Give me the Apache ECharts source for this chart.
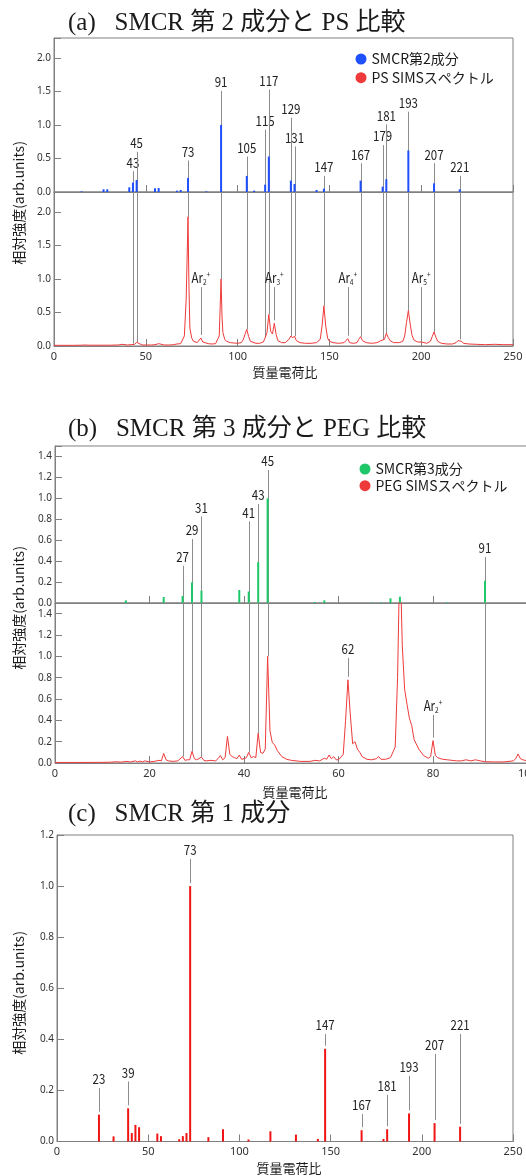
<!DOCTYPE html>
<html><head><meta charset="utf-8">
<script src="https://cdn.jsdelivr.net/npm/echarts@6.0.0/dist/echarts.min.js"></script>
<style>html,body{margin:0;padding:0;background:#fff}#c{width:526px;height:1176px}</style>
</head><body><div id="c"></div>
<script>
// ---------- DATA ----------
// (a) SMCR component 2 (bars) and PS SIMS spectrum
const smcr2MZ  = [15,27,29,41,43,45,55,57,67,69,73,83,91,105,109,115,117,129,131,143,147,167,179,181,193,207,221];
const smcr2Val = [0.01,0.04,0.04,0.07,0.14,0.18,0.055,0.06,0.02,0.03,0.21,0.01,1.0,0.24,0.02,0.11,0.53,0.17,0.12,0.03,0.05,0.17,0.08,0.19,0.62,0.13,0.04];
const labelA_MZ  = [43,45,73,91,105,115,117,129,131,147,167,179,181,193,207,221];
const labelA_Top = [0.31,0.60,0.47,1.51,0.53,0.93,1.53,1.11,0.68,0.24,0.43,0.70,1.01,1.20,0.43,0.24];
const arA_MZ = [80,120,160,200];
const arA_Text = ['2','3','4','5'];
const arA_Top = [0.88,0.88,0.88,0.88];
const psSpectrum = [[0,0.01],[5,0.01],[10,0.01],[15,0.012],[17,0.015],[18,0.025],[19,0.012],[25,0.012],[30,0.012],[35,0.015],[37,0.025],[38,0.02],[40,0.015],[42,0.02],[43,0.035],[44,0.025],[45,0.055],[46,0.03],[48,0.015],[50,0.015],[53,0.015],[55,0.02],[56,0.025],[57,0.035],[58,0.02],[60,0.015],[63,0.015],[65,0.02],[67,0.03],[69,0.035],[70,0.05],[71,0.15],[72,0.7],[73,1.93],[73.5,0.9],[74,0.27],[75,0.12],[76,0.07],[77,0.06],[78,0.05],[79,0.06],[80,0.12],[81,0.06],[82,0.04],[84,0.035],[86,0.03],[88,0.035],[89,0.05],[90,0.15],[91,1.0],[91.5,0.45],[92,0.2],[93,0.1],[94,0.07],[96,0.05],[98,0.045],[100,0.04],[102,0.05],[103,0.09],[104,0.17],[105,0.25],[106,0.14],[107,0.07],[108,0.05],[110,0.04],[112,0.04],[114,0.06],[115,0.12],[116,0.2],[117,0.47],[118,0.22],[119,0.18],[120,0.34],[121,0.17],[122,0.08],[124,0.05],[126,0.05],[128,0.1],[129,0.15],[130,0.12],[131,0.15],[132,0.08],[134,0.05],[137,0.04],[140,0.04],[143,0.05],[145,0.1],[146,0.3],[147,0.6],[148,0.3],[149,0.12],[150,0.07],[152,0.05],[155,0.04],[158,0.05],[159,0.06],[160,0.11],[161,0.05],[163,0.04],[165,0.05],[166,0.1],[167,0.14],[168,0.08],[170,0.05],[173,0.04],[176,0.05],[178,0.08],[179,0.09],[180,0.1],[181,0.19],[182,0.13],[183,0.08],[185,0.05],[188,0.05],[190,0.07],[191,0.15],[192,0.35],[193,0.53],[194,0.33],[195,0.16],[196,0.09],[198,0.06],[200,0.06],[201,0.04],[203,0.04],[205,0.07],[206,0.14],[207,0.21],[208,0.13],[209,0.07],[211,0.04],[214,0.03],[217,0.03],[219,0.05],[220,0.08],[221,0.1],[222,0.07],[223,0.04],[226,0.03],[230,0.025],[235,0.02],[240,0.025],[245,0.02],[250,0.02]];

// (b) SMCR component 3 (bars) and PEG SIMS spectrum
const smcr3MZ  = [15,23,27,29,31,39,41,43,45,55,57,67,69,71,73,83,91];
const smcr3Val = [0.025,0.057,0.067,0.197,0.118,0.124,0.11,0.39,1.0,0.01,0.025,0.004,0.006,0.045,0.06,0.005,0.213];
const labelB_MZ  = [27,29,31,41,43,45,91];
const labelB_Top = [0.356,0.61,0.827,0.78,0.945,1.27,0.44];
const labelB2_MZ = [62];
const labelB2_Top = [0.984];
const arB_MZ = [80];
const arB_Text = ['2'];
const arB_Top = [0.45];
const pegSpectrum = [[0,0.005],[5,0.005],[10,0.006],[12,0.008],[13,0.012],[14,0.008],[15,0.015],[16,0.01],[17,0.02],[17.5,0.01],[18,0.018],[18.5,0.01],[19,0.02],[20,0.01],[21,0.015],[22,0.025],[22.5,0.02],[23,0.09],[23.5,0.03],[24,0.02],[25,0.015],[26,0.02],[27,0.06],[27.5,0.025],[28,0.03],[28.5,0.03],[29,0.11],[29.5,0.04],[30,0.03],[31,0.055],[31.5,0.025],[32,0.02],[33,0.025],[34,0.02],[34.5,0.04],[35,0.07],[35.5,0.03],[36,0.05],[36.5,0.25],[37,0.08],[37.5,0.06],[38,0.05],[38.5,0.04],[39,0.075],[39.5,0.035],[40,0.04],[40.5,0.05],[41,0.1],[41.5,0.05],[42,0.06],[42.5,0.05],[43,0.28],[43.5,0.1],[44,0.09],[44.5,0.13],[45,1.0],[45.5,0.3],[46,0.19],[46.5,0.17],[47,0.12],[48,0.06],[49,0.035],[50,0.025],[52,0.015],[54,0.015],[55,0.025],[56,0.02],[57,0.045],[57.5,0.035],[58,0.075],[58.5,0.04],[59,0.06],[59.5,0.03],[60,0.03],[61,0.08],[61.5,0.4],[62,0.78],[62.5,0.45],[63,0.18],[63.5,0.2],[64,0.13],[64.5,0.1],[65,0.06],[66,0.035],[67,0.03],[68,0.04],[68.5,0.06],[69,0.035],[70,0.035],[71,0.05],[72,0.15],[72.5,0.8],[73,2.0],[73.5,1.1],[74,0.69],[74.5,0.55],[75,0.42],[75.5,0.35],[76,0.22],[77,0.13],[78,0.07],[79,0.045],[79.5,0.06],[80,0.21],[80.5,0.07],[81,0.05],[82,0.035],[83,0.03],[84,0.025],[85,0.02],[86,0.02],[87,0.03],[88,0.02],[89,0.03],[90,0.02],[91,0.012],[93,0.01],[95,0.01],[97,0.02],[97.5,0.04],[98,0.085],[98.5,0.04],[99,0.03],[100,0.02],[102,0.02]];

// (c) SMCR component 1 (bars)
const smcr1MZ  = [23,31,39,41,43,45,55,57,67,69,71,73,83,91,105,117,131,143,147,167,179,181,193,207,221];
const smcr1Val = [0.105,0.02,0.13,0.033,0.065,0.056,0.031,0.021,0.009,0.021,0.033,1.0,0.017,0.048,0.008,0.04,0.027,0.01,0.363,0.044,0.01,0.048,0.11,0.072,0.058];
const labelC_MZ  = [23,39,73,147,167,181,193,207,221];
const labelC_Top = [0.209,0.235,1.106,0.421,0.108,0.183,0.257,0.343,0.421];

// texts
const titles = ['(a)   SMCR 第 2 成分と PS 比較', '(b)   SMCR 第 3 成分と PEG 比較', '(c)   SMCR 第 1 成分'];
const yName = '相対強度(arb.units)';
const xName = '質量電荷比';
const legendA = ['SMCR第2成分', 'PS SIMSスペクトル'];
const legendB = ['SMCR第3成分', 'PEG SIMSスペクトル'];

// ---------- STYLE ----------
const AX = '#808080', LEAD = '#8c8c8c';
const BLUE = '#1f50ff', GREEN = '#1ec86a', RED = '#f01414', LINE_RED = '#ee3a3a';
const FONT_CJK = "'Noto Sans CJK JP', sans-serif";
const FONT_NUM = "'Noto Sans CJK JP',sans-serif";
const FONT_TICK = "'Noto Sans','Noto Sans CJK JP',sans-serif";
const FONT_TITLE = "'Liberation Serif','Noto Sans CJK JP',serif";

function valueAt(spec, mz) { const p = spec.find(d => d[0] === mz); return p ? p[1] : 0; }
function barValueAt(xs, vs, mz) { const i = xs.indexOf(mz); return i >= 0 ? vs[i] : 0; }

function xAx(grid, max, interval, showLabel) {
  return {type:'value', gridIndex:grid, min:0, max:max, interval:interval,
    axisLine:{show:true, onZero:false, lineStyle:{color:AX, width:1}},
    axisTick:{show:true, inside:true, length:7, lineStyle:{color:AX}},
    axisLabel:{show:showLabel, fontSize:11, color:'#333', margin:5, fontFamily:FONT_TICK},
    splitLine:{show:false}};
}
function yAx(grid, max, interval) {
  return {type:'value', gridIndex:grid, min:0, max:max, interval:interval,
    axisLine:{show:true, onZero:false, lineStyle:{color:AX, width:1}},
    axisTick:{show:true, inside:true, length:7, lineStyle:{color:AX}},
    axisLabel:{fontSize:10, color:'#333', margin:3, fontFamily:FONT_TICK,
      formatter: v => (Math.abs(v/interval - Math.round(v/interval)) < 1e-6) ? v.toFixed(1) : ''},
    splitLine:{show:false}};
}
// leader lines + labels
function leader(axIdx, xs, tops, bottoms, labels, gapPx, rich) {
  return {
    type:'custom', xAxisIndex:axIdx, yAxisIndex:axIdx, z:1, silent:true,
    data: xs.map((x,i) => [x, tops[i], bottoms[i]]),
    renderItem: function (params, api) {
      const i = params.dataIndex;
      const x = api.value(0);
      const pT = api.coord([x, api.value(1)]);
      const pB = api.coord([x, api.value(2)]);
      const px = Math.round(pT[0]) + 0.5;
      const children = [{type:'line', shape:{x1:px, y1:pT[1], x2:px, y2:pB[1] - (gapPx||0)},
        style:{stroke:LEAD, lineWidth:1}}];
      if (labels) {
        const st = {text: labels[i], fill:'#222', align:'center', verticalAlign:'middle',
          fontSize:14, fontFamily:FONT_NUM};
        if (rich) st.rich = rich;
        children.push({type:'text', x:pT[0], y:pT[1]-9, scaleX:0.82, style:st});
      }
      return {type:'group', children:children};
    }
  };
}
const arRich = {
  a:{fontSize:14, fontFamily:FONT_NUM, fill:'#222', lineHeight:16},
  s:{fontSize:8, fontFamily:FONT_NUM, fill:'#222', lineHeight:8, verticalAlign:'bottom'},
  p:{fontSize:8, fontFamily:FONT_NUM, fill:'#222', lineHeight:8, verticalAlign:'top'}
};
function barSeries(axIdx, name, xs, vs, color) {
  return {type:'bar', name:name, xAxisIndex:axIdx, yAxisIndex:axIdx, barWidth:2, z:3,
    itemStyle:{color:color}, color:color, silent:true,
    data: xs.map((x,i) => [x, vs[i]])};
}
function lineSeries(axIdx, name, spec, color) {
  return {type:'line', name:name, xAxisIndex:axIdx, yAxisIndex:axIdx, showSymbol:false, symbol:'none',
    clip:true, z:3, color:color, itemStyle:{color:color}, lineStyle:{color:color, width:1}, silent:true,
    data: spec};
}
function legend(names, left, top, gap) {
  return {data:names, orient:'vertical', left:left, top:top, icon:'circle', itemWidth:11, itemHeight:11,
    itemGap:gap, selectedMode:false, textStyle:{fontSize:14, color:'#1a1a1a', fontFamily:FONT_CJK}};
}
function txt(t, x, y, size, family, align, rot) {
  const el = {type:'text', x:x, y:y, silent:true,
    style:{text:t, fontSize:size, fontFamily:family, fill:'#1a1a1a', align:align||'left', verticalAlign:'middle'}};
  if (rot) el.rotation = rot;
  return el;
}
function grid(l, t, w, h) {
  return {left:l, top:t, width:w, height:h, show:true, borderColor:AX, borderWidth:1,
    containLabel:false, outerBoundsMode:'none'};
}

const chart = echarts.init(document.getElementById('c'), null, {renderer:'canvas'});
const A_MAX = 2.3, B_MAX = 1.5, C_MAX = 1.2;
chart.setOption({
  animation:false,
  backgroundColor:'#fff',
  grid:[grid(54,38,459,154), grid(54,192,459,154), grid(55,446,472.5,157), grid(55,603,472.5,160), grid(57,835,456,306.5)],
  xAxis:[xAx(0,250,50,false), xAx(1,250,50,true), xAx(2,100,20,false), xAx(3,100,20,true), xAx(4,250,50,true)],
  yAxis:[yAx(0,A_MAX,0.5), yAx(1,A_MAX,0.5), yAx(2,B_MAX,0.2), yAx(3,B_MAX,0.2), yAx(4,C_MAX,0.2)],
  legend:[legend(legendA, 350.5, 47, 4.7), legend(legendB, 354.5, 457, 2.7)],
  series:[
    // (a)
    leader(0, labelA_MZ, labelA_Top, labelA_MZ.map(()=>0), labelA_MZ.map(String), 0),
    leader(1, labelA_MZ, labelA_MZ.map(()=>A_MAX), labelA_MZ.map(m=>valueAt(psSpectrum,m)), null, 0),
    leader(1, arA_MZ, arA_Top, arA_MZ.map(m=>valueAt(psSpectrum,m)), arA_Text.map(s=>'{a|Ar}{s|'+s+'}{p|+}'), 3, arRich),
    barSeries(0, legendA[0], smcr2MZ, smcr2Val, BLUE),
    lineSeries(1, legendA[1], psSpectrum, LINE_RED),
    // (b)
    leader(2, labelB_MZ, labelB_Top, labelB_MZ.map(()=>0), labelB_MZ.map(String), 0),
    leader(3, labelB_MZ, labelB_MZ.map(()=>B_MAX), labelB_MZ.map(m=>valueAt(pegSpectrum,m)), null, 0),
    leader(3, labelB2_MZ, labelB2_Top, labelB2_MZ.map(m=>valueAt(pegSpectrum,m)), labelB2_MZ.map(String), 3),
    leader(3, arB_MZ, arB_Top, arB_MZ.map(m=>valueAt(pegSpectrum,m)), arB_Text.map(s=>'{a|Ar}{s|'+s+'}{p|+}'), 3, arRich),
    barSeries(2, legendB[0], smcr3MZ, smcr3Val, GREEN),
    lineSeries(3, legendB[1], pegSpectrum, LINE_RED),
    // (c)
    leader(4, labelC_MZ, labelC_Top, labelC_MZ.map(m=>barValueAt(smcr1MZ,smcr1Val,m)), labelC_MZ.map(String), 3),
    barSeries(4, 'SMCR第1成分', smcr1MZ, smcr1Val, RED)
  ],
  graphic:[
    txt(titles[0], 68, 23, 25, FONT_TITLE),
    txt(titles[1], 68, 429, 25, FONT_TITLE),
    txt(titles[2], 68, 814, 25, FONT_TITLE),
    txt(yName, 19, 203, 14, FONT_CJK, 'center', Math.PI/2),
    txt(yName, 19, 608, 14, FONT_CJK, 'center', Math.PI/2),
    txt(yName, 19, 993, 14, FONT_CJK, 'center', Math.PI/2),
    txt(xName, 285, 372, 13, FONT_CJK, 'center'),
    txt(xName, 295, 792, 13, FONT_CJK, 'center'),
    txt(xName, 289, 1168, 13, FONT_CJK, 'center')
  ]
});
</script></body></html>
